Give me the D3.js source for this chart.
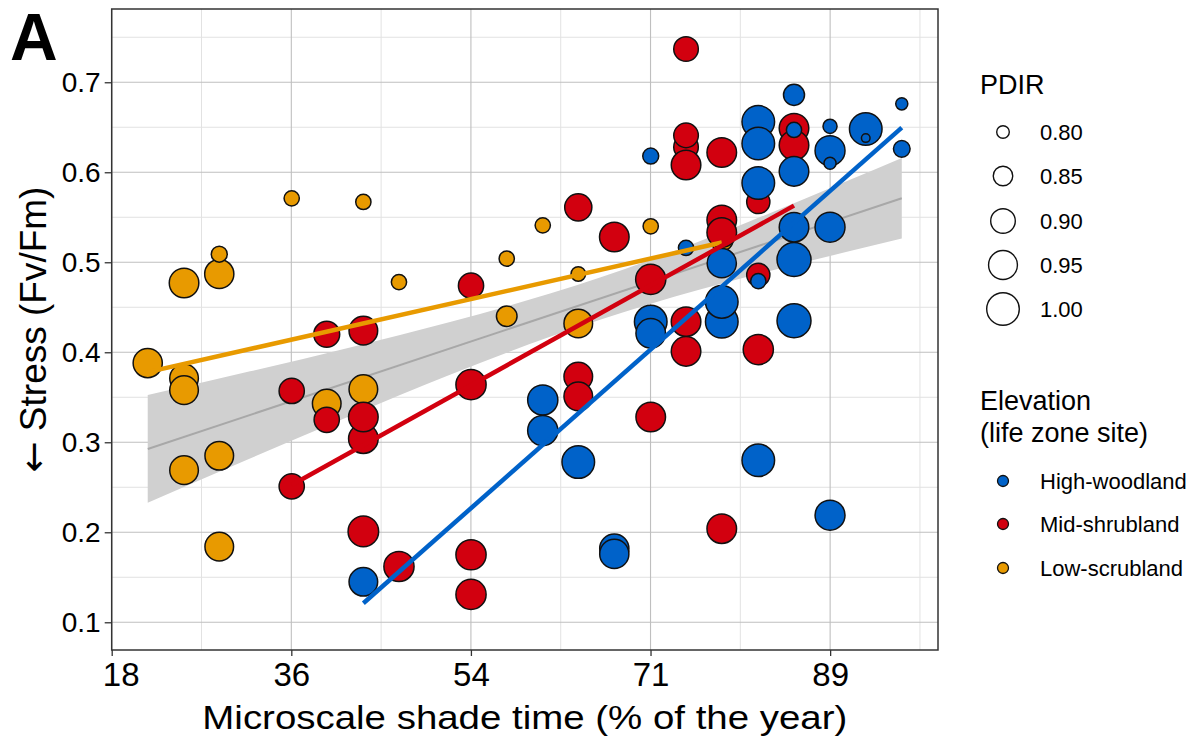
<!DOCTYPE html>
<html>
<head>
<meta charset="utf-8">
<script src="https://cdn.jsdelivr.net/npm/d3@7/dist/d3.min.js"></script>
<style>
  html, body { margin: 0; padding: 0; background: #ffffff; }
  svg { display: block; }
  text { font-family: "Liberation Sans", Arial, sans-serif; fill: #000; }
</style>
</head>
<body>
<svg id="chart" width="1193" height="738"></svg>
<script>
// ---------------- data ----------------
const xTicks = [17.8, 35.6, 53.4, 71.2, 89.0];
const xTickLabels = ["18", "36", "54", "71", "89"];
const xMinor = [26.7, 44.5, 62.3, 80.1, 97.9];
const yTicks = [0.1, 0.2, 0.3, 0.4, 0.5, 0.6, 0.7];
const yMinor = [0.15, 0.25, 0.35, 0.45, 0.55, 0.65, 0.75];

const groups = ["High-woodland", "Mid-shrubland", "Low-scrubland"];
const groupColors = ["#0062c9", "#d2000f", "#e89a00"];

// Low-scrubland
const lowX = [21.37, 24.97, 24.97, 24.97, 24.97, 28.46, 28.46, 28.46, 28.46, 35.64, 39.11, 42.74, 42.74, 46.27, 56.95, 56.95, 60.52, 64.04, 64.04, 71.22, 78.26];
const lowY = [0.388, 0.371, 0.358, 0.477, 0.269, 0.487, 0.509, 0.285, 0.184, 0.571, 0.343, 0.567, 0.359, 0.478, 0.504, 0.440, 0.541, 0.487, 0.432, 0.540, 0.525];
const lowPDIR = [0.954, 0.947, 0.947, 0.959, 0.947, 0.954, 0.822, 0.947, 0.947, 0.817, 0.947, 0.817, 0.947, 0.817, 0.817, 0.860, 0.817, 0.812, 0.947, 0.817, 0.880];

// Mid-shrubland
const midX = [35.64, 35.64, 39.11, 39.11, 42.74, 42.74, 42.74, 42.74, 46.27, 53.41, 53.41, 53.41, 53.41, 64.04, 64.04, 64.04, 67.61, 71.22, 71.22, 74.72, 74.72, 74.72, 74.72, 74.72, 74.72, 78.26, 78.26, 78.26, 78.26, 81.88, 81.88, 81.88, 85.42, 85.42];
const midY = [0.357, 0.251, 0.420, 0.325, 0.424, 0.304, 0.328, 0.201, 0.162, 0.474, 0.364, 0.175, 0.131, 0.561, 0.373, 0.351, 0.528, 0.481, 0.328, 0.737, 0.628, 0.641, 0.608, 0.434, 0.401, 0.622, 0.547, 0.533, 0.204, 0.567, 0.486, 0.403, 0.649, 0.630];
const midPDIR = [0.907, 0.907, 0.915, 0.907, 0.947, 0.959, 0.959, 0.972, 0.967, 0.907, 0.967, 0.967, 0.967, 0.929, 0.947, 0.947, 0.959, 0.967, 0.959, 0.900, 0.900, 0.900, 0.959, 0.959, 0.959, 0.959, 0.959, 0.959, 0.959, 0.885, 0.885, 0.967, 0.959, 0.959];

// High-woodland
const highX = [42.74, 60.52, 60.52, 64.04, 67.61, 67.61, 71.22, 71.22, 71.22, 74.72, 78.26, 78.26, 78.26, 81.88, 81.88, 81.88, 81.88, 81.88, 85.42, 85.42, 85.42, 85.42, 85.42, 85.42, 88.99, 88.99, 88.99, 88.99, 88.99, 92.53, 92.53, 96.10, 96.10];
const highY = [0.145, 0.347, 0.313, 0.278, 0.182, 0.176, 0.618, 0.434, 0.421, 0.516, 0.499, 0.434, 0.456, 0.656, 0.632, 0.588, 0.479, 0.280, 0.686, 0.647, 0.601, 0.539, 0.503, 0.435, 0.651, 0.624, 0.610, 0.539, 0.219, 0.648, 0.638, 0.676, 0.626];
const highPDIR = [0.947, 0.967, 0.967, 1.000, 0.954, 0.954, 0.822, 1.000, 0.959, 0.817, 0.954, 1.000, 1.000, 1.000, 1.000, 1.000, 0.817, 1.000, 0.864, 0.817, 0.959, 0.959, 1.020, 1.020, 0.809, 0.964, 0.797, 0.964, 0.964, 1.000, 0.780, 0.797, 0.827];

// fitted lines (per group) and overall fit with confidence band
const fitLowX = [21.37, 78.26], fitLowY = [0.378, 0.522];
const fitMidX = [35.64, 85.42], fitMidY = [0.2526, 0.5629];
const fitHighX = [42.74, 96.10], fitHighY = [0.1211, 0.6496];
const fitAllX = [21.37, 96.10], fitAllY = [0.2926, 0.5711];
const bandX = [21.37, 31.51, 41.42, 51.33, 61.24, 71.15, 81.06, 90.97, 96.10];
const bandLo = [0.2327, 0.2819, 0.3292, 0.3749, 0.4172, 0.4537, 0.4847, 0.5124, 0.5263];
const bandHi = [0.3524, 0.3788, 0.4054, 0.4336, 0.4652, 0.5026, 0.5456, 0.5916, 0.6159];

const pdirBreaks = [0.80, 0.85, 0.90, 0.95, 1.00];
const pdirLabels = ["0.80", "0.85", "0.90", "0.95", "1.00"];

// ---------------- layout ----------------
const svg = d3.select("#chart");
const P = { left: 111.7, right: 938, top: 9, bottom: 650 };

const x = d3.scaleLinear().domain([17.8, 99.69]).range([P.left, P.right]);
const y = d3.scaleLinear().domain([0.0692, 0.7814]).range([P.bottom, P.top]);
const area = d3.scaleLinear().domain([0.8, 1.0]).range([49, 289]);
const rad = v => Math.sqrt(Math.max(16, area(v))) - 0.7;

svg.append("rect").attr("width", 1193).attr("height", 738).attr("fill", "#fff");

// clip
svg.append("defs").append("clipPath").attr("id", "panel")
  .append("rect").attr("x", P.left).attr("y", P.top)
  .attr("width", P.right - P.left).attr("height", P.bottom - P.top);

// grid
const grid = svg.append("g");
grid.selectAll("line.ymin").data(yMinor).join("line")
  .attr("x1", P.left).attr("x2", P.right)
  .attr("y1", d => y(d)).attr("y2", d => y(d))
  .attr("stroke", "#e2e2e2").attr("stroke-width", 1);
grid.selectAll("line.xmin").data(xMinor).join("line")
  .attr("y1", P.top).attr("y2", P.bottom)
  .attr("x1", d => x(d)).attr("x2", d => x(d))
  .attr("stroke", "#e2e2e2").attr("stroke-width", 1);
grid.selectAll("line.ymaj").data(yTicks).join("line")
  .attr("x1", P.left).attr("x2", P.right)
  .attr("y1", d => y(d)).attr("y2", d => y(d))
  .attr("stroke", "#bfbfbf").attr("stroke-width", 1.1);
grid.selectAll("line.xmaj").data(xTicks).join("line")
  .attr("y1", P.top).attr("y2", P.bottom)
  .attr("x1", d => x(d)).attr("x2", d => x(d))
  .attr("stroke", "#bfbfbf").attr("stroke-width", 1.1);

const plot = svg.append("g").attr("clip-path", "url(#panel)");

// confidence band + overall fit
const bandData = bandX.map((d, i) => ({ x: d, lo: bandLo[i], hi: bandHi[i] }));
plot.append("path").datum(bandData)
  .attr("d", d3.area().curve(d3.curveMonotoneX)
    .x(d => x(d.x)).y0(d => y(d.lo)).y1(d => y(d.hi)))
  .attr("fill", "#d0d0d0");
plot.append("path").datum(fitAllX.map((d, i) => [d, fitAllY[i]]))
  .attr("d", d3.line().x(d => x(d[0])).y(d => y(d[1])))
  .attr("stroke", "#a8a8a8").attr("stroke-width", 2).attr("fill", "none");

// points
const series = [
  { xs: lowX, ys: lowY, ps: lowPDIR, color: groupColors[2] },
  { xs: midX, ys: midY, ps: midPDIR, color: groupColors[1] },
  { xs: highX, ys: highY, ps: highPDIR, color: groupColors[0] }
];
series.forEach(s => {
  const pts = s.xs.map((d, i) => ({ x: d, y: s.ys[i], p: s.ps[i] }));
  plot.append("g").selectAll("circle").data(pts).join("circle")
    .attr("cx", d => x(d.x)).attr("cy", d => y(d.y)).attr("r", d => rad(d.p))
    .attr("fill", s.color).attr("stroke", "#111").attr("stroke-width", 1.5);
});

// group fit lines
const fits = [
  { xs: fitLowX, ys: fitLowY, color: groupColors[2] },
  { xs: fitMidX, ys: fitMidY, color: groupColors[1] },
  { xs: fitHighX, ys: fitHighY, color: groupColors[0] }
];
fits.forEach(f => {
  plot.append("path").datum(f.xs.map((d, i) => [d, f.ys[i]]))
    .attr("d", d3.line().x(d => x(d[0])).y(d => y(d[1])))
    .attr("stroke", f.color).attr("stroke-width", 4.5).attr("fill", "none");
});

// panel border
svg.append("rect").attr("x", P.left).attr("y", P.top)
  .attr("width", P.right - P.left).attr("height", P.bottom - P.top)
  .attr("fill", "none").attr("stroke", "#333").attr("stroke-width", 1.5);

// axes
const yAxis = d3.axisLeft(y).tickValues(yTicks).tickSize(7).tickPadding(4).tickFormat(d3.format(".1f"));
const gy = svg.append("g").attr("transform", `translate(${P.left},0)`).call(yAxis);
gy.select(".domain").remove();
gy.selectAll(".tick line").attr("stroke", "#333").attr("stroke-width", 1.3);
gy.selectAll(".tick text").attr("font-size", 28).attr("fill", "#111")
  .attr("font-family", "'Liberation Sans', Arial, sans-serif");

const xAxis = d3.axisBottom(x).tickValues(xTicks).tickSize(6).tickPadding(7)
  .tickFormat((d, i) => xTickLabels[i]);
const gx = svg.append("g").attr("transform", `translate(0,${P.bottom})`).call(xAxis);
gx.select(".domain").remove();
gx.selectAll(".tick line").attr("stroke", "#333").attr("stroke-width", 1.3);
gx.selectAll(".tick text").attr("font-size", 33).attr("fill", "#000")
  .attr("font-family", "'Liberation Sans Narrow', 'DejaVu Sans Condensed', 'Liberation Sans', sans-serif")
  .attr("dx", (d, i) => i === 0 ? 9 : 0);

// axis titles
svg.append("text").attr("x", (P.left + P.right) / 2).attr("y", 729)
  .attr("text-anchor", "middle").attr("font-size", 34)
  .attr("textLength", 645).attr("lengthAdjust", "spacingAndGlyphs")
  .text("Microscale shade time (% of the year)");
const yt = svg.append("text").attr("transform", `translate(46,${(P.top + P.bottom) / 2}) rotate(-90)`)
  .attr("text-anchor", "middle").attr("font-size", 37);
yt.append("tspan").attr("font-family", "'DejaVu Sans', sans-serif").text("\u2190");
yt.append("tspan").text(" Stress (Fv/Fm)");

// panel tag
svg.append("text").attr("x", 10).attr("y", 60).attr("font-size", 66)
  .attr("font-weight", "bold").text("A");

// size legend
const lg = svg.append("g");
lg.append("text").attr("x", 980).attr("y", 94).attr("font-size", 27).text("PDIR");
const pdY = [132, 176, 221, 265, 309];
pdirBreaks.forEach((b, i) => {
  lg.append("circle").attr("cx", 1003).attr("cy", pdY[i]).attr("r", rad(b))
    .attr("fill", "none").attr("stroke", "#111").attr("stroke-width", 1.4);
  lg.append("text").attr("x", 1040).attr("y", pdY[i]).attr("dy", "0.36em")
    .attr("font-size", 22).text(pdirLabels[i]);
});

// colour legend
lg.append("text").attr("x", 980).attr("y", 410).attr("font-size", 27).text("Elevation");
lg.append("text").attr("x", 980).attr("y", 442).attr("font-size", 27).text("(life zone site)");
const elY = [481, 524, 568];
groups.forEach((g, i) => {
  lg.append("circle").attr("cx", 1003).attr("cy", elY[i]).attr("r", 5.5)
    .attr("fill", groupColors[i]).attr("stroke", "#111").attr("stroke-width", 1.3);
  lg.append("text").attr("x", 1040).attr("y", elY[i]).attr("dy", "0.36em")
    .attr("font-size", 22).text(g);
});
</script>
</body>
</html>
